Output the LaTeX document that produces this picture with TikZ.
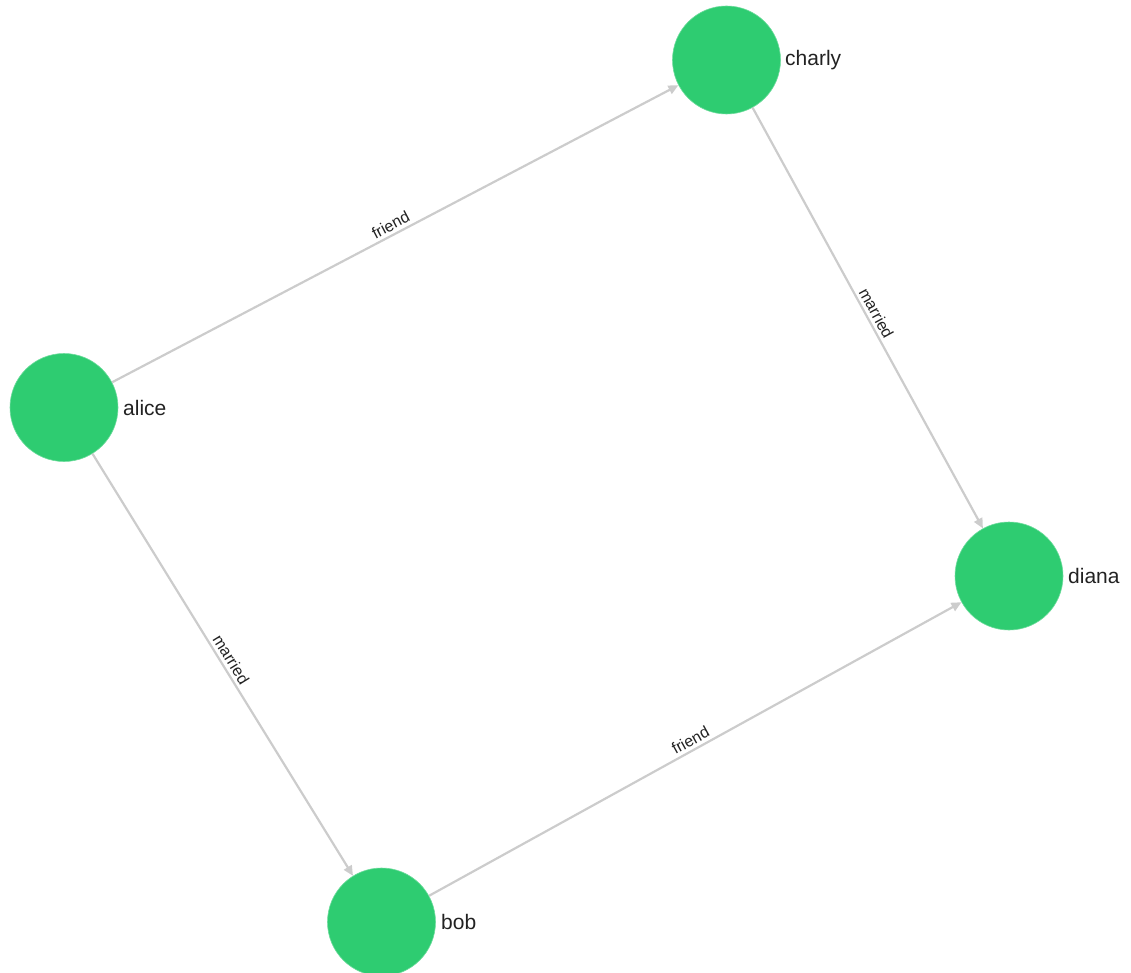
\documentclass[tikz,border=0pt]{standalone}
\usepackage{fontspec}
\setmainfont{Liberation Sans}
\usetikzlibrary{arrows.meta}
\definecolor{nodegreen}{HTML}{2ECC71}
\definecolor{edgegray}{HTML}{CCCCCC}
\definecolor{txt}{HTML}{222222}
\tikzset{
  vertex/.style={circle, fill=nodegreen, draw=nodegreen!70!white, line width=0.6pt, minimum size=108pt, inner sep=0pt},
  vlabel/.style={anchor=west, text=txt, font=\fontsize{21}{21}\selectfont, inner sep=0pt},
  edge/.style={draw=edgegray, line width=2.2pt, -{Triangle[length=10pt,width=9pt]}},
  elabel/.style={sloped, above, text=txt, font=\fontsize{16}{16}\selectfont, inner sep=3pt}
}
\begin{document}
\begin{tikzpicture}[x=1pt,y=-1pt]
\useasboundingbox (0,0) rectangle (1131,973);
\node[vertex] (alice) at (64,407.5) {};
\node[vertex] (charly) at (726.5,60) {};
\node[vertex] (diana) at (1009,576) {};
\node[vertex] (bob) at (381.5,922) {};
\node[vlabel] (alicel) at (123,407.5) {alice};
\node[vlabel] (charlyl) at (785,60) {charly};
\node[vlabel] (dianal) at (1068,576) {diana};
\node[vlabel] (bobl) at (441,922) {bob};
\draw[edge] (alice) -- node[elabel] (l1) {friend} (charly);
\draw[edge] (charly) -- node[elabel] (l2) {married} (diana);
\draw[edge] (alice) -- node[elabel] (l3) {married} (bob);
\draw[edge] (bob) -- node[elabel] (l4) {friend} (diana);
\end{tikzpicture}
\end{document}
